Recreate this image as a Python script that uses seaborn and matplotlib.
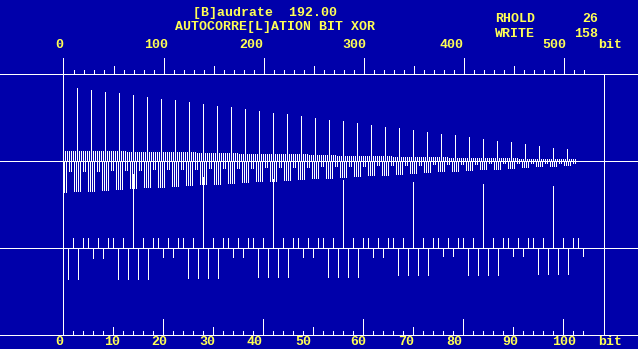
import matplotlib
matplotlib.use("Agg")
import matplotlib.pyplot as plt
import numpy as np
import pandas as pd
import seaborn as sns

title_line1 = "[B]audrate  192.00"
title_line2 = "AUTOCORRE[L]ATION BIT XOR"
status_names = ["RHOLD", "WRITE"]
status_values = ["26", "158"]
unit_label = "bit"

top_tick_values = [0, 100, 200, 300, 400, 500]
top_tick_labels = ["0", "100", "200", "300", "400", "500"]
bottom_tick_values = [0, 10, 20, 30, 40, 50, 60, 70, 80, 90, 100]
bottom_tick_labels = ["0", "10", "20", "30", "40", "50", "60", "70", "80", "90", "100"]

# bit pattern (period 14): T=peak/1, U=1, L=0 (long), S=0 (short)
bit_pattern = ["T", "L", "U", "L", "U", "U", "S", "U", "S", "U", "U", "L", "U", "L"]
max_lag = 512          # last lag drawn in the autocorrelation panel
max_bit = 104          # last bit drawn in the bit panel

# autocorrelation peaks at lags 14, 28, ..., 504
spike_heights = [73, 71, 69, 68, 66, 64, 62, 61, 59, 57, 55, 54, 52, 50, 48, 47, 45, 43,
                 41, 40, 38, 36, 34, 33, 31, 29, 27, 26, 24, 22, 20, 19, 17, 15, 13, 12]
# per 14-lag group (group 0..37)
pos_small = [10, 10, 10, 10, 10, 9, 9, 9, 9, 9, 8, 8, 8, 7, 7, 7, 7, 7, 6, 6, 5, 5, 5, 5,
             4, 4, 4, 4, 3, 3, 3, 3, 3, 2, 2, 2, 2, 2]
neg_long = [32, 31, 31, 30, 29, 28, 27, 27, 26, 25, 24, 24, 23, 22, 21, 21, 20, 19, 18, 18,
            17, 16, 15, 15, 14, 13, 12, 11, 11, 10, 9, 9, 8, 7, 6, 6, 5, 5]
neg_short = [11, 11, 11, 10, 10, 10, 9, 9, 9, 9, 8, 8, 8, 8, 7, 7, 7, 7, 6, 6, 6, 6, 5, 5,
             5, 5, 4, 4, 4, 4, 3, 3, 3, 3, 3, 3, 3, 3]

# bit panel, per 14-bit group
bit_tall = [74, 71, 69, 68, 66, 64, 62]          # bits 14, 28, ..., 98
bit_up = [10, 10, 10, 10, 10, 10, 10, 10]
bit_long = [32, 32, 31, 30, 30, 28, 28, 27]
bit_short = [11, 10, 10, 10, 10, 9, 9, 9]

# ---------------- build tables ----------------
def grp(v):
    return int(v / 14 + 0.5)

pos_rows = []
for L in range(2, max_lag + 1, 2):
    if L % 14 == 0:
        pos_rows.append((L, spike_heights[L // 14 - 1]))
    else:
        pos_rows.append((L, pos_small[grp(L)]))
mid_pos = pd.DataFrame(pos_rows, columns=["lag", "h"])

neg_rows = []
for L in range(1, max_lag + 1):
    k = bit_pattern[L % 14]
    if k == "L":
        neg_rows.append((L, -neg_long[grp(L)]))
    elif k == "S":
        neg_rows.append((L, -neg_short[(L - 6) // 14]))
mid_neg = pd.DataFrame(neg_rows, columns=["lag", "h"])

bit_rows = []
for u in range(1, max_bit + 1):
    k = bit_pattern[u % 14]
    if k == "T":
        bit_rows.append((u, bit_tall[u // 14 - 1]))
    elif k == "U":
        bit_rows.append((u, bit_up[grp(u)]))
    elif k == "L":
        bit_rows.append((u, -bit_long[grp(u)]))
    else:
        bit_rows.append((u, -bit_short[(u - 6) // 14]))
bits = pd.DataFrame(bit_rows, columns=["bit", "h"])

# ---------------- style / layout ----------------
BLUE = "#0000AA"
WHITE = "#FFFFFF"
YELLOW = "#FFFF55"
W, H = 638, 349
X0 = 63.5       # pixel column of lag 0 (centre)
Y0 = 160.5      # pixel row of middle baseline (centre)
PX = 0.72       # 1 pixel in points

sns.set_theme(style="white")
plt.rcParams["font.family"] = ["Liberation Mono", "DejaVu Sans Mono"]

fig = plt.figure(figsize=(W / 100, H / 100), dpi=100, facecolor=BLUE)
ax = fig.add_axes([0, 0, 1, 1])
ax.set_facecolor(BLUE)
ax2 = ax.twiny()

def px(x, y):
    return x - X0, Y0 - y

TOP_AX = 87
LOW_BASE = -87
BOT_AX = -174

bar_kw = dict(color=WHITE, saturation=1, errorbar=None, linewidth=0, antialiased=False,
              native_scale=True, orient="x")
sns.barplot(data=mid_pos, x="lag", y="h", width=0.5, ax=ax, **bar_kw)
sns.barplot(data=mid_neg, x="lag", y="h", width=0.5, ax=ax, **bar_kw)
sns.barplot(data=bits, x="bit", y="h", width=0.2, ax=ax2, bottom=LOW_BASE, **bar_kw)

ax.set_xlim(-X0, W - X0)
ax.set_ylim(Y0 - H, Y0)
ax2.set_xlim(-X0 / 5, (W - X0) / 5)
ax2.set_ylim(Y0 - H, Y0)

line_kw = dict(color=WHITE, linewidth=PX, antialiased=False)
for yy in (TOP_AX, 0, LOW_BASE, BOT_AX):
    ax.axhline(yy, **line_kw)
ax.vlines(0, BOT_AX, TOP_AX + 16, **line_kw)
ax.vlines(540, BOT_AX, TOP_AX, **line_kw)

# top scale ticks (lag in bits)
for t in range(10, 521, 10):
    h = 16 if t % 100 == 0 else (8 if t % 50 == 0 else 4)
    ax.vlines(t, TOP_AX, TOP_AX + h, **line_kw)
# bottom scale ticks (bit index)
for t in range(2, 105, 2):
    h = 16 if t % 20 == 0 else (8 if t % 10 == 0 else 4)
    ax2.vlines(t, BOT_AX, BOT_AX + h, **line_kw)

# ---------------- text ----------------
FS = 9.5
tkw = dict(color=YELLOW, fontsize=FS, fontweight="bold", va="baseline")

def put(xp, yp, s, ha="left"):
    x, y = px(xp, yp)
    ax.text(x, y, s, ha=ha, **tkw)

put(193, 16, title_line1)
put(175, 30, title_line2)
put(495, 21.7, status_names[0])
put(598, 21.7, status_values[0], ha="right")
put(495, 37.3, status_names[1])
put(598, 37.3, status_values[1], ha="right")

top_left_px = [55, 144, 239, 342.7, 439, 542.7]
for lx, lab in zip(top_left_px, top_tick_labels):
    put(lx, 48.3, lab)
put(598.3, 48.3, unit_label)

bot_left_px = [55, 104, 151.7, 199.3, 246.7, 295, 350, 398.3, 446.7, 502.7, 551.7]
for lx, lab in zip(bot_left_px, bottom_tick_labels):
    put(lx, 345, lab)
put(598.3, 345, unit_label)

for a in (ax, ax2):
    a.set_axis_off()

fig.savefig("out.png", dpi=100, facecolor=BLUE)
